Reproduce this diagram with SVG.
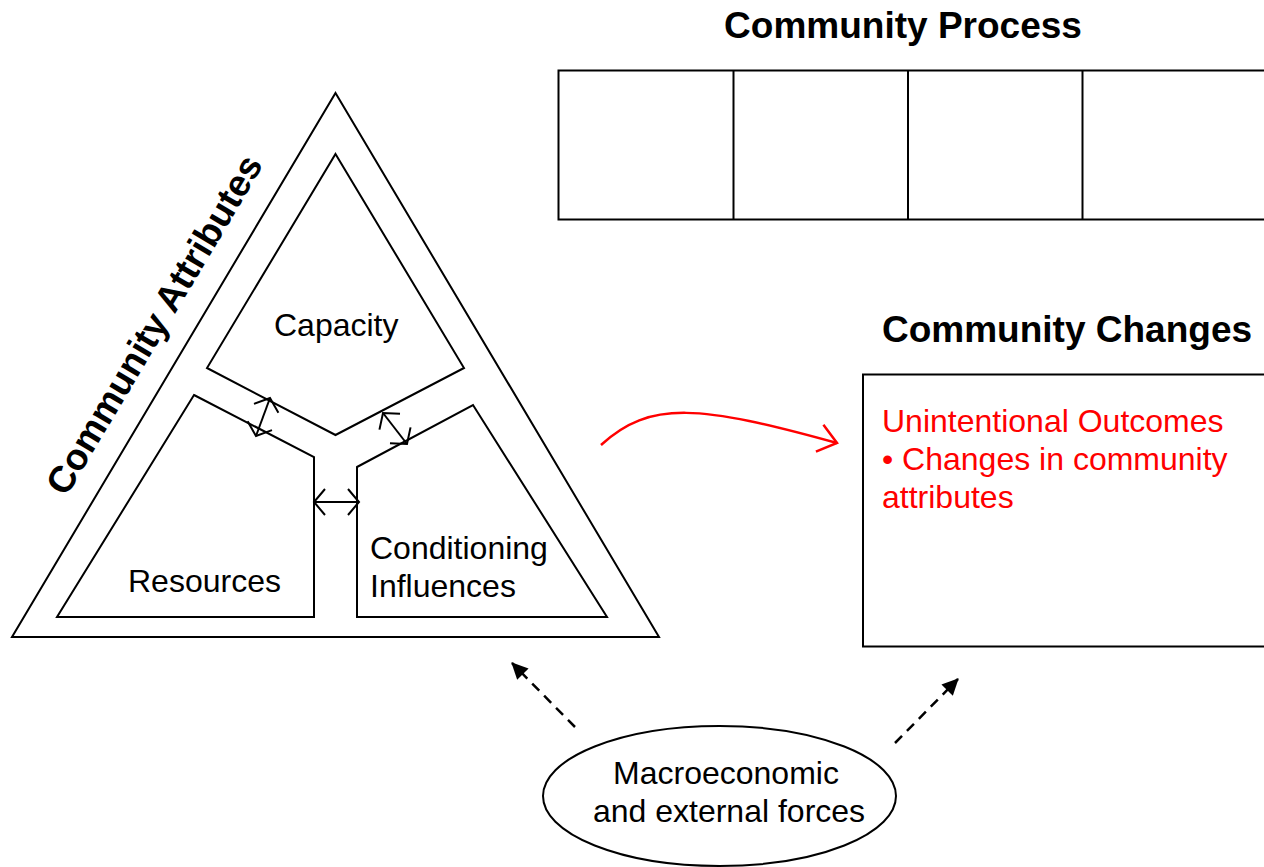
<svg xmlns="http://www.w3.org/2000/svg" width="1264" height="867" viewBox="0 0 1264 867">
<style>
.ln{fill:none;stroke:#000;stroke-width:2;stroke-linejoin:miter}
.t{font-family:"Liberation Sans",Arial,sans-serif;font-size:32px;fill:#000}
.tb{font-family:"Liberation Sans",Arial,sans-serif;font-size:37px;font-weight:bold;fill:#000}
.red{fill:#ff0000}
.dbl{fill:none;stroke:#000;stroke-width:2;marker-start:url(#oa);marker-end:url(#oa)}
.dash{fill:none;stroke:#000;stroke-width:2.5;stroke-dasharray:10 7;marker-end:url(#fa)}
</style>
<defs>
<marker id="oa" viewBox="-16 -16 20 32" markerWidth="20" markerHeight="32" refX="0" refY="0" orient="auto-start-reverse" markerUnits="userSpaceOnUse">
<path d="M-11,-13 L0,0 L-11,13" fill="none" stroke="#000" stroke-width="2"/>
</marker>
<marker id="ra" viewBox="-24 -20 28 40" markerWidth="28" markerHeight="40" refX="0" refY="0" orient="auto" markerUnits="userSpaceOnUse">
<path d="M-18,-14 L0,0 L-18,14" fill="none" stroke="#ff0000" stroke-width="2.5"/>
</marker>
<marker id="fa" viewBox="-20 -10 22 20" markerWidth="22" markerHeight="20" refX="0" refY="0" orient="auto" markerUnits="userSpaceOnUse">
<path d="M1,0 L-15.5,-8 L-15.5,8 Z" fill="#000"/>
</marker>
</defs>
<rect width="1264" height="867" fill="#fff"/>

<g id="community-attributes">
<polygon class="ln" points="335.5,93 659,637 12,637"/>
<text class="tb" x="165" y="331" text-anchor="middle" transform="rotate(-59.3 165 331)">Community Attributes</text>
</g>

<g id="capacity">
<polygon class="ln" points="335.5,154 464,368 335.5,435 207,368"/>
<text class="t" x="274" y="336">Capacity</text>
</g>

<g id="resources">
<polygon class="ln" points="194,395 314,457 314,617 57,617"/>
<text class="t" x="128" y="592">Resources</text>
</g>

<g id="conditioning-influences">
<polygon class="ln" points="357,467 473,405 607,617 357,617"/>
<text class="t" x="370" y="559">Conditioning</text>
<text class="t" x="370" y="597">Influences</text>
</g>

<g id="community-process">
<text class="tb" x="903" y="38" text-anchor="middle">Community Process</text>
<rect class="ln" x="558.5" y="70.5" width="720" height="149"/>
<line class="ln" x1="733.5" y1="70.5" x2="733.5" y2="219.5"/>
<line class="ln" x1="908" y1="70.5" x2="908" y2="219.5"/>
<line class="ln" x1="1082.5" y1="70.5" x2="1082.5" y2="219.5"/>
</g>

<g id="community-changes">
<text class="tb" x="882" y="342">Community Changes</text>
<rect class="ln" x="863" y="374.5" width="420" height="272"/>
<text class="t red" x="882" y="432">Unintentional Outcomes</text>
<text class="t red" x="882" y="470">• Changes in community</text>
<text class="t red" x="882" y="508">attributes</text>
</g>

<g id="macroeconomic-forces">
<ellipse class="ln" cx="719.5" cy="796" rx="176.5" ry="70"/>
<text class="t" x="726" y="784" text-anchor="middle">Macroeconomic</text>
<text class="t" x="729" y="822" text-anchor="middle">and external forces</text>
</g>

<g id="connectors">
<line class="dbl" x1="256" y1="436" x2="270" y2="398"/>
<line class="dbl" x1="383" y1="413" x2="407" y2="444"/>
<line class="dbl" x1="314" y1="502" x2="359" y2="502"/>
<path d="M601,445 C650,400 700,405 837,443" fill="none" stroke="#ff0000" stroke-width="2.5" marker-end="url(#ra)"/>
<line class="dash" x1="575" y1="727" x2="512" y2="663"/>
<line class="dash" x1="895" y1="743" x2="958" y2="679"/>
</g>
</svg>
